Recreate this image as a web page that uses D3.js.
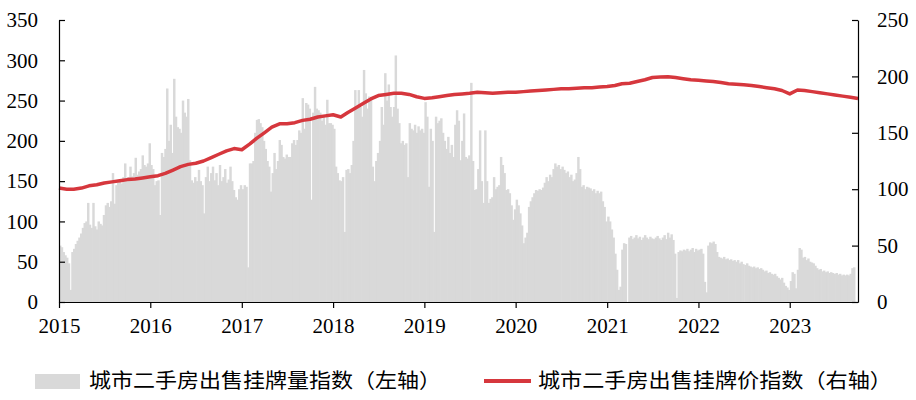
<!DOCTYPE html>
<html><head><meta charset="utf-8">
<script src="https://cdn.jsdelivr.net/npm/d3@7/dist/d3.min.js"></script>
<style>
html,body{margin:0;padding:0;background:#fff;}
svg{display:block;}
.num{font-family:"Liberation Serif","Times New Roman",serif;font-size:21px;fill:#000;}
.leg{font-family:"Noto Sans CJK SC",sans-serif;font-size:20px;fill:#000;}
</style></head>
<body><svg id="c" width="916" height="400"></svg>
<script>
// ---- data ----
const years = [2015,2016,2017,2018,2019,2020,2021,2022,2023];
const yearLabels = ["2015","2016","2017","2018","2019","2020","2021","2022","2023"];
const leftTicks = [0,50,100,150,200,250,300,350];
const rightTicks = [0,50,100,150,200,250];
const legendLabels = ["城市二手房出售挂牌量指数（左轴）","城市二手房出售挂牌价指数（右轴）"];

// weekly listing volume index (left axis), one array per year
const vol2015 = [70,68,62,58,55,48,15,62,66,72,76,80,85,92,98,100,123,96,92,123,94,90,100,97,95,108,120,123,118,125,160,122,145,148,150,147,155,172,150,155,168,156,160,179,158,162,165,182,170,168,172,197];
const vol2016 = [170,165,145,150,151,108,185,180,190,265,200,220,185,277,230,217,215,210,250,235,230,252,176,151,148,155,150,164,150,145,110,155,168,150,160,168,151,160,145,170,150,155,165,148,152,168,150,139,130,127,140,145];
const vol2017 = [140,145,143,43,172,172,175,210,226,227,222,217,200,190,175,168,137,160,185,165,175,201,195,180,178,183,180,180,197,201,195,201,213,210,253,215,247,245,240,127,235,267,240,238,235,225,230,220,251,222,222,220];
const vol2018 = [215,168,160,151,150,155,87,164,165,160,170,200,263,240,263,242,230,288,259,240,255,251,168,150,175,185,200,242,220,284,250,270,242,230,242,306,240,222,197,200,195,197,155,222,215,213,220,210,218,213,215,210];
const vol2019 = [248,230,143,215,200,87,230,222,225,228,210,200,190,205,185,195,180,220,238,225,176,200,234,180,178,182,272,175,139,140,165,213,150,123,213,150,123,128,130,155,140,143,145,180,170,160,139,140,135,120,102,115];
const vol2020 = [127,120,110,95,73,80,86,118,125,130,135,139,138,140,139,142,148,155,150,158,155,165,172,168,170,165,168,164,160,162,155,158,150,152,160,180,165,143,145,140,143,142,141,138,140,135,138,135,137,125,118,100];
const vol2021 = [106,100,90,80,60,40,15,19,65,73,72,0,80,82,78,80,83,79,81,77,80,83,80,78,81,79,78,80,82,79,77,80,83,78,86,80,84,77,60,5,62,64,63,65,64,66,63,65,67,62,66,64];
const vol2022 = [65,66,60,25,12,70,74,73,75,72,62,56,55,54,56,53,54,52,53,51,52,50,52,48,50,47,46,48,45,44,43,44,42,43,41,42,40,38,39,36,37,35,34,35,32,30,28,30,24,20,18,15];
const vol2023 = [26,37,35,17,40,67,65,55,56,52,54,50,49,48,45,42,40,41,38,39,37,38,36,37,36,35,36,34,35,33,34,33,34,33,35,42,43];
const volumeByYear = [vol2015,vol2016,vol2017,vol2018,vol2019,vol2020,vol2021,vol2022,vol2023];

// monthly listing price index (right axis), from Jan 2015
const priceIndex = [
 101,100,100,101,103,104,105.5,106.5,107.5,108.5,109,110,
 111,112,114,117,120,122,123,125,128,131,134,136,
 135,140,145,150,155,158,158,159,161,162,164,165,
 166,164,168,172,176,180,183,184,185,185,184,182,
 180.5,181,182,183,184,184.5,185,186,185.5,185,185.5,186,
 186,186.5,187,187.5,188,188.5,189,189,189.5,190,190,190.5,
 191,192,193.5,194,195.5,197,199,199.5,199.7,199,198,197,
 196.5,196,195.5,194.5,193.5,193,192.5,192,191,190,189,187.5,
 184.5,188,187.5,186.5,185.5,184.5,183.5,182.5,181.5,180.5];

// ---- build ----
const volume = [];
volumeByYear.forEach((arr, k) => arr.forEach((v, i) => {
  volume.push({date: d3.timeDay.offset(new Date(years[k],0,1), Math.round(i*365/52)), value: v});
}));
const price = priceIndex.map((v, i) => ({date: new Date(2015, i, 1), value: v}));

const svg = d3.select("#c");
const L = 59, R = 858, T = 20, B = 302;
const x = d3.scaleTime().domain([new Date(2015,0,1), new Date(2023,9,1)]).range([L, R]);
const yL = d3.scaleLinear().domain([0,350]).range([B, T]);
const yR = d3.scaleLinear().domain([0,250]).range([B, T]);

// bars
const step = x(new Date(2015,0,8)) - x(new Date(2015,0,1));
svg.append("g").selectAll("rect").data(volume).join("rect")
  .attr("x", d => x(d.date))
  .attr("y", d => yL(d.value))
  .attr("width", step + 0.7)
  .attr("height", d => B - yL(d.value))
  .attr("fill", "#d9d9d9");

// line
svg.append("path").datum(price)
  .attr("fill","none").attr("stroke","#d6373d").attr("stroke-width",3.5)
  .attr("stroke-linejoin","round")
  .attr("d", d3.line().x(d => x(d.date)).y(d => yR(d.value)));

// axes
const gl = svg.append("g").attr("transform",`translate(${L},0)`)
  .call(d3.axisLeft(yL).tickValues(leftTicks).tickSizeInner(-6).tickSizeOuter(0).tickPadding(21));
const gr = svg.append("g").attr("transform",`translate(${R},0)`)
  .call(d3.axisRight(yR).tickValues(rightTicks).tickSizeInner(-6).tickSizeOuter(0).tickPadding(19));
const gx = svg.append("g").attr("transform",`translate(0,${B})`)
  .call(d3.axisBottom(x).tickValues(years.map(y => new Date(y,0,1)))
    .tickFormat((d,i) => yearLabels[i]).tickSizeInner(6).tickSizeOuter(0).tickPadding(10));
[gl,gr,gx].forEach(g => {
  g.selectAll("path,line").attr("stroke","#000").attr("stroke-width",1.2);
  g.selectAll("text").attr("class","num").attr("font-family",null).attr("font-size",null).attr("fill","#000");
});

// legend
svg.append("rect").attr("x",35).attr("y",374).attr("width",45).attr("height",15).attr("fill","#d9d9d9");
svg.append("text").attr("class","leg").attr("x",89).attr("y",388)
  .attr("textLength",352).attr("lengthAdjust","spacingAndGlyphs").text(legendLabels[0]);
svg.append("line").attr("x1",484).attr("x2",531).attr("y1",381).attr("y2",381)
  .attr("stroke","#d6373d").attr("stroke-width",4);
svg.append("text").attr("class","leg").attr("x",538).attr("y",388)
  .attr("textLength",354).attr("lengthAdjust","spacingAndGlyphs").text(legendLabels[1]);
</script></body></html>
